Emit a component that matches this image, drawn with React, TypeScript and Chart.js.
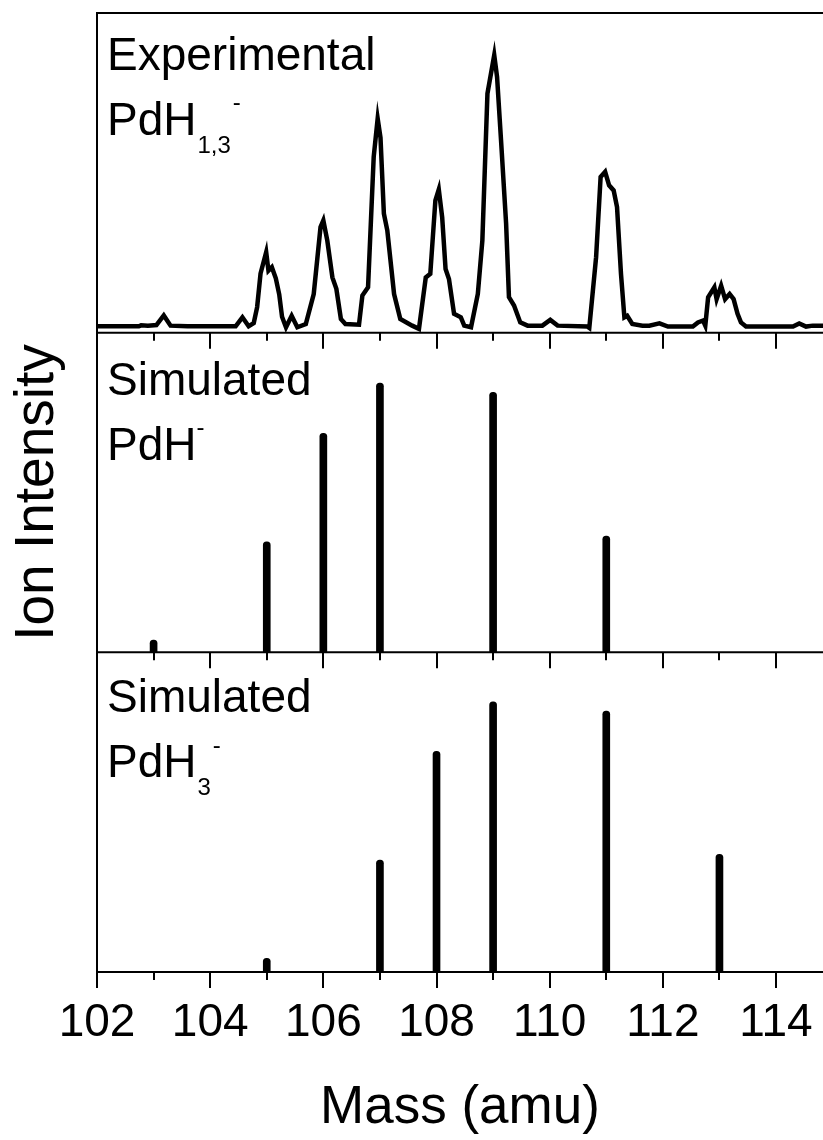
import React, { useEffect, useRef } from 'react';
import { Chart, registerables } from 'chart.js';

Chart.register(...registerables);

// ---- Data ----
// Experimental spectrum (top panel), intensity in % of panel height
const expMass = [
  102.0, 102.74, 102.78, 102.9, 103.05, 103.18, 103.3, 103.6, 104.0, 104.45,
  104.57, 104.68, 104.77, 104.83, 104.89, 104.99, 105.03, 105.09, 105.16, 105.22,
  105.27, 105.34, 105.44, 105.54, 105.69, 105.83, 105.95, 106.0, 106.07, 106.16,
  106.23, 106.31, 106.39, 106.63, 106.69, 106.79, 106.89, 106.96, 107.01, 107.07,
  107.13, 107.25, 107.36, 107.57, 107.69, 107.81, 107.89, 107.98, 108.04, 108.1,
  108.16, 108.22, 108.31, 108.43, 108.49, 108.61, 108.73, 108.81, 108.9, 109.02,
  109.07, 109.14, 109.23, 109.28, 109.37, 109.48, 109.61, 109.87, 110.01, 110.14,
  110.67, 110.7, 110.82, 110.9, 110.98, 111.05, 111.13, 111.19, 111.26, 111.32,
  111.37, 111.46, 111.64, 111.76, 111.94, 112.09, 112.53, 112.62, 112.71, 112.75,
  112.8, 112.91, 112.95, 113.03, 113.1, 113.18, 113.25, 113.32, 113.38, 113.47,
  114.3, 114.41, 114.53, 114.65, 114.83,
];
const expIntensity = [
  2.0, 2.0, 2.3, 2.2, 2.4, 5.4, 2.2, 2.0, 2.0, 2.0,
  4.8, 2.0, 3.0, 8.0, 18.5, 25.2, 19.4, 20.5, 17.0, 12.0,
  5.0, 1.7, 5.3, 1.7, 2.7, 12.1, 33.0, 35.1, 28.8, 17.3,
  13.7, 4.3, 2.7, 2.5, 11.6, 14.2, 55.0, 67.0, 61.0, 37.2,
  32.0, 12.1, 4.3, 2.2, 1.2, 17.3, 18.4, 41.4, 44.8, 36.1,
  19.9, 16.8, 5.9, 4.8, 2.2, 1.7, 12.1, 28.8, 74.8, 86.8,
  80.0, 60.2, 34.0, 11.1, 8.5, 3.2, 2.2, 2.2, 4.0, 2.2,
  1.9, 1.5, 23.6, 48.7, 50.3, 46.1, 44.5, 39.3, 18.4, 4.8,
  5.3, 2.7, 2.2, 2.2, 2.9, 1.9, 1.9, 3.2, 3.8, 2.2,
  11.1, 14.2, 10.5, 14.7, 10.5, 12.1, 10.5, 5.9, 3.2, 1.9,
  1.9, 2.9, 1.9, 2.2, 2.2,
];

// Simulated PdH- (middle panel)
const pdhMass = [103, 105, 106, 107, 109, 111];
const pdhIntensity = [3.8, 34.6, 68.5, 84.2, 81.3, 36.4];

// Simulated PdH3- (bottom panel)
const pdh3Mass = [105, 107, 108, 109, 111, 113];
const pdh3Intensity = [4.3, 35.0, 69.0, 84.5, 81.6, 36.8];

// Axis
const xTickLabels = ['102', '104', '106', '108', '110', '112', '114'];
const xMin = 102;
const xMax = 114.83;

// Panel texts
const panelTitles = ['Experimental', 'Simulated', 'Simulated'];
const panelBase = ['PdH', 'PdH', 'PdH'];
const panelSub = ['1,3', '', '3'];
const panelSup = ['-', '-', '-'];

const FONT = "'Liberation Sans', Arial, Helvetica, sans-serif";
const panelIds = ['yTop', 'yMid', 'yBot'];
// text offsets (px) from the top of each panel: title baseline, formula baseline, sub baseline, sup baseline
const textOffsets = [
  [57, 122, 140, 97],
  [62, 127, 145, 102],
  [60, 125, 143, 101],
];

const panelPlugin = {
  id: 'panelDecor',
  afterDraw(chart: any) {
    const ctx: CanvasRenderingContext2D = chart.ctx;
    const xs = chart.scales.x;
    const { left, right } = chart.chartArea;
    ctx.save();
    ctx.strokeStyle = '#000';
    ctx.fillStyle = '#000';
    ctx.lineWidth = 2;
    ctx.lineCap = 'butt';
    // top frame line
    const topScale = chart.scales.yTop;
    ctx.beginPath();
    ctx.moveTo(left - 1, topScale.top);
    ctx.lineTo(right, topScale.top);
    ctx.stroke();

    panelIds.forEach((id, i) => {
      const s = chart.scales[id];
      const yb = s.bottom;
      if (id !== 'yBot') {
        ctx.beginPath();
        ctx.moveTo(left - 1, yb);
        ctx.lineTo(right, yb);
        ctx.stroke();
      }
      xs.ticks.forEach((t: any) => {
        const px = Math.round(xs.getPixelForValue(t.value));
        const len = t.label ? 16 : 8;
        ctx.beginPath();
        ctx.moveTo(px, yb);
        ctx.lineTo(px, yb + len);
        ctx.stroke();
      });

      // texts
      const [oT, oF, oSub, oSup] = textOffsets[i];
      const tx = left + 10;
      ctx.textAlign = 'left';
      ctx.textBaseline = 'alphabetic';
      ctx.font = `46px ${FONT}`;
      ctx.fillText(panelTitles[i], tx, s.top + oT);
      ctx.fillText(panelBase[i], tx, s.top + oF);
      const baseW = ctx.measureText(panelBase[i]).width;
      ctx.font = `24px ${FONT}`;
      let endX = tx + baseW;
      if (panelSub[i]) {
        ctx.fillText(panelSub[i], tx + baseW + 1, s.top + oSub);
        endX = tx + baseW + 1 + ctx.measureText(panelSub[i]).width + 2;
      }
      ctx.fillText(panelSup[i], endX, s.top + oSup);
    });
    ctx.restore();
  },
};

function yScale(weight: number, extra: any = {}) {
  return {
    type: 'linear',
    position: 'left',
    min: 0,
    max: 100,
    stack: 'panels',
    stackWeight: 1,
    weight,
    offset: false,
    ticks: { display: false },
    grid: { display: true, drawOnChartArea: false, drawTicks: false },
    border: { display: true, color: '#000', width: 2 },
    afterFit: (s: any) => {
      s.width = 97;
    },
    ...extra,
  };
}

export default function App() {
  const ref = useRef<HTMLCanvasElement>(null);

  useEffect(() => {
    if (!ref.current) return;
    const chart = new Chart(ref.current, {
      type: 'line',
      data: {
        datasets: [
          {
            type: 'line',
            label: 'Experimental PdH1,3-',
            data: expMass.map((m, i) => ({ x: m, y: expIntensity[i] })),
            xAxisID: 'x',
            yAxisID: 'yTop',
            borderColor: '#000',
            borderWidth: 4.5,
            pointRadius: 0,
            tension: 0,
            fill: false,
          },
          {
            type: 'bar',
            label: 'Simulated PdH-',
            data: pdhMass.map((m, i) => ({ x: m, y: pdhIntensity[i] })),
            xAxisID: 'x',
            yAxisID: 'yMid',
            backgroundColor: '#000',
            barThickness: 7,
            grouped: false,
            borderRadius: 3.5,
            borderSkipped: 'start',
          },
          {
            type: 'bar',
            label: 'Simulated PdH3-',
            data: pdh3Mass.map((m, i) => ({ x: m, y: pdh3Intensity[i] })),
            xAxisID: 'x',
            yAxisID: 'yBot',
            backgroundColor: '#000',
            barThickness: 7,
            grouped: false,
            borderRadius: 3.5,
            borderSkipped: 'start',
          },
        ] as any,
      },
      options: {
        responsive: false,
        animation: false,
        layout: { padding: { top: 13, left: 0, right: 0, bottom: 0 } },
        plugins: { legend: { display: false }, tooltip: { enabled: false } },
        scales: {
          x: {
            type: 'linear',
            position: 'bottom',
            min: xMin,
            max: xMax,
            offset: false,
            ticks: {
              stepSize: 1,
              autoSkip: false,
              maxRotation: 0,
              minRotation: 0,
              includeBounds: false,
              padding: 0,
              color: '#000',
              font: { size: 46, family: FONT },
              callback: (v: any) => (xTickLabels.includes(String(v)) ? String(v) : ''),
            },
            grid: {
              display: true,
              drawOnChartArea: false,
              drawTicks: true,
              tickLength: 24,
              tickColor: 'rgba(0,0,0,0)',
            },
            border: { display: true, color: '#000', width: 2 },
            title: {
              display: true,
              text: 'Mass (amu)',
              color: '#000',
              font: { size: 53, family: FONT },
              padding: { top: 0, bottom: 0 },
            },
            afterFit: (s: any) => {
              s.height = 168;
            },
          },
          yTop: yScale(3),
          yMid: yScale(2, {
            title: {
              display: true,
              text: 'Ion Intensity',
              color: '#000',
              font: { size: 55, family: FONT },
              padding: { top: 5, bottom: 0 },
            },
          }),
          yBot: yScale(1),
        } as any,
      },
      plugins: [panelPlugin],
    });
    return () => chart.destroy();
  }, []);

  return (
    <div style={{ position: 'absolute', left: 0, top: 0, width: 823, height: 1140, background: '#fff' }}>
      <canvas ref={ref} width={823} height={1140} style={{ display: 'block', width: 823, height: 1140 }} />
    </div>
  );
}
